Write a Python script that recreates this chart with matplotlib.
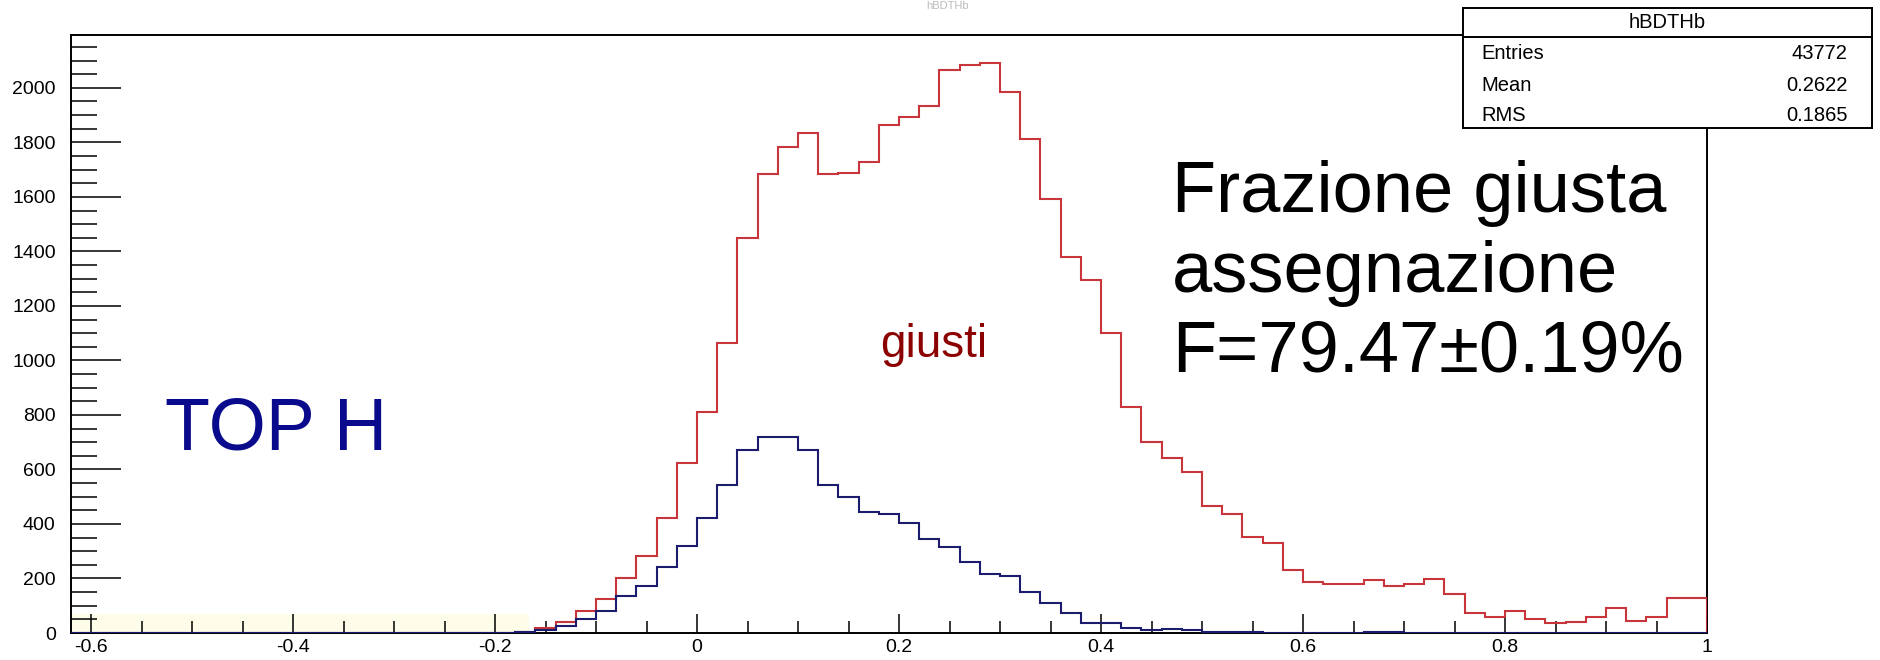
import numpy as np
import matplotlib
matplotlib.use('Agg')
import matplotlib.pyplot as plt

plt.rcParams['font.family'] = ['Liberation Sans', 'DejaVu Sans']

# histogram binning (ROOT-style, 0.02 wide bins)
bin_lo = -0.62
bin_hi = 1.0
n_bins = 81

# "giusti" (red) and TOP H (blue) bin contents
red_counts = [0] * 22 + [
    5, 17, 41, 81, 125, 203, 283, 421, 623,
    812, 1065, 1448, 1683, 1782, 1834, 1683, 1689, 1727,
    1863, 1894, 1932, 2067, 2083, 2091, 1984, 1812, 1593, 1381, 1295,
    1100, 830, 700, 641, 592, 466, 436, 351, 329, 231,
    186, 179, 179, 194, 171, 180, 197, 142, 75, 60,
    82, 50, 36, 42, 60, 90, 44, 60, 127, 127]
blue_counts = [0] * 22 + [
    4, 11, 27, 50, 81, 136, 172, 243, 319,
    422, 543, 672, 720, 720, 672, 543, 500, 445,
    436, 405, 344, 314, 262, 217, 209, 149, 111, 72, 36,
    36, 20, 11, 15, 11, 2, 3, 3, 0, 0,
    0, 0, 0, 3, 3, 0, 0, 0, 0, 0,
    0, 0, 0, 0, 0, 0, 0, 0, 0, 0]

x_ticks = [-0.6, -0.4, -0.2, 0, 0.2, 0.4, 0.6, 0.8, 1.0]
x_ticklabels = ['-0.6', '-0.4', '-0.2', '0', '0.2', '0.4', '0.6', '0.8', '1']
y_ticks = list(range(0, 2001, 200))

stats_name = 'hBDTHb'
stats_rows = [('Entries', '43772'), ('Mean', '0.2622'), ('RMS', '0.1865')]

edges = np.linspace(bin_lo, bin_hi, n_bins + 1)

fig = plt.figure(figsize=(18.81, 6.6), dpi=100)
ax = fig.add_axes([0.0377, 0.0409, 0.8698, 0.9061])

ax.axhspan(5, 70, xmin=0, xmax=0.28, color='#fdfdea', lw=0, zorder=0)
ax.stairs(red_counts, edges, color='#c8363c', lw=1.5, zorder=3)
ax.stairs(blue_counts, edges, color='#1c1c6e', lw=1.5, zorder=4)

ax.set_xlim(bin_lo, bin_hi)
ax.set_ylim(0, 2194)
ax.set_xticks(x_ticks)
ax.set_xticklabels(x_ticklabels)
ax.set_xticks(np.arange(-0.6, 1.001, 0.05), minor=True)
ax.set_yticks(y_ticks)
ax.set_yticks(np.arange(0, 2151, 50), minor=True)

ax.tick_params(axis='x', which='major', direction='in', length=13.5, width=1.1,
               labelsize=14, pad=4)
ax.tick_params(axis='x', which='minor', direction='in', length=8.5, width=1.1)
ax.tick_params(axis='y', which='major', direction='in', length=36, width=1.1,
               labelsize=14, pad=11)
ax.tick_params(axis='y', which='minor', direction='in', length=18.5, width=1.1)
for s in ax.spines.values():
    s.set_linewidth(1.4)

ax.text(-0.527, 672, 'TOP H', fontsize=53, color='#0a0a8c', va='baseline', ha='left')
ax.text(0.181, 1013, 'giusti', fontsize=33, color='#8b0000', va='baseline', ha='left')
ax.text(0.470, 1545, 'Frazione giusta', fontsize=52, color='black', va='baseline')
ax.text(0.470, 1251, 'assegnazione', fontsize=52, color='black', va='baseline')
ax.text(0.470, 958, 'F=79.47\u00b10.19%', fontsize=52, color='black', va='baseline')

# faint title at the very top
fig.text(0.504, 0.999, stats_name, ha='center', va='top', fontsize=8, color='#bbbbbb')

# stats box
box = fig.add_axes([0.7778, 0.806, 0.2174, 0.1818])
box.set_xlim(0, 1)
box.set_ylim(0, 1)
box.set_xticks([])
box.set_yticks([])
box.set_facecolor('white')
for s in box.spines.values():
    s.set_linewidth(1.4)
box.axhline(0.758, color='black', lw=1.4)
box.text(0.5, 0.88, stats_name, ha='center', va='center', fontsize=14.5)
for (name, val), yy in zip(stats_rows, [0.625, 0.358, 0.108]):
    box.text(0.046, yy, name, ha='left', va='center', fontsize=14.5)
    box.text(0.94, yy, val, ha='right', va='center', fontsize=14.5)

fig.savefig('out.png', dpi=100)
